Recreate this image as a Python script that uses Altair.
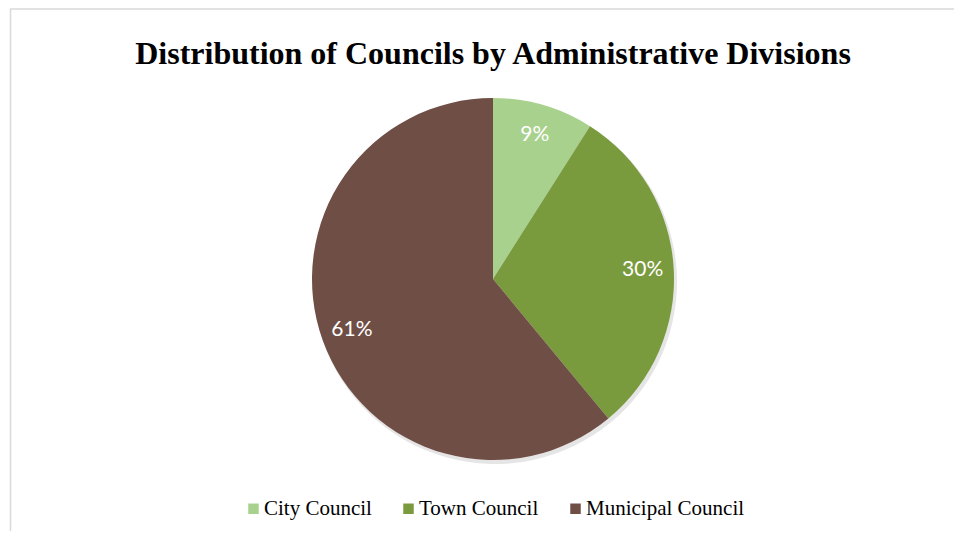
import altair as alt
import pandas as pd

TITLE = "Distribution of Councils by Administrative Divisions"
categories = ["City Council", "Town Council", "Municipal Council"]
values = [9, 30, 61]
palette = ["#A9D18E", "#7A9A3E", "#6F4E46"]

df = pd.DataFrame({
    "category": categories,
    "value": values,
    "idx": list(range(len(categories))),
    "label": [f"{v}%" for v in values],
})

W, H = 946, 523
CX, CY, R = 485, 271, 181

color_scale = alt.Scale(domain=categories, range=palette)

base = alt.Chart(df)

border = alt.Chart(pd.DataFrame({"a": [0]})).mark_rect(
    fill="white", stroke="#d9d9d9", strokeWidth=1.5
).encode(
    x=alt.value(2.5), x2=alt.value(W + 20), y=alt.value(1), y2=alt.value(H + 20)
)

shadow = base.mark_arc(outerRadius=R + 1, fill="#000000", opacity=0.10).encode(
    theta=alt.Theta("value:Q", stack=True),
    order=alt.Order("idx:Q"),
    x=alt.value(CX + 2), y=alt.value(CY + 3),
)

pie = base.mark_arc(outerRadius=R).encode(
    theta=alt.Theta("value:Q", stack=True),
    color=alt.Color(
        "category:N", scale=color_scale, sort=categories,
        legend=alt.Legend(
            title=None, orient="none", direction="horizontal",
            legendX=235, legendY=490, padding=0,
            symbolType="square", symbolSize=110, symbolStrokeWidth=0,
            labelFont="Liberation Serif", labelFontSize=21, labelColor="#000000",
            labelOffset=0, columnPadding=26,
        ),
    ),
    order=alt.Order("idx:Q"),
    x=alt.value(CX), y=alt.value(CY),
)

labels = base.mark_text(
    font="Lato", fontSize=21, color="white", align="center", baseline="middle"
).encode(
    theta=alt.Theta("value:Q", stack=True),
    order=alt.Order("idx:Q"),
    radius=alt.value(150),
    text="label:N",
    x=alt.value(CX), y=alt.value(CY),
)

title = alt.Chart(pd.DataFrame({"t": [TITLE]})).mark_text(
    font="Liberation Serif", fontSize=32, fontWeight="bold", color="#000000",
    align="center", baseline="alphabetic"
).encode(text="t:N", x=alt.value(CX), y=alt.value(56))

chart = alt.layer(border, shadow, pie, labels, title).properties(
    width=W, height=H, padding=0, autosize=alt.AutoSizeParams(type="none")
).configure_view(stroke=None)

chart.save("out.html", embed_options={"renderer": "svg", "actions": False})
